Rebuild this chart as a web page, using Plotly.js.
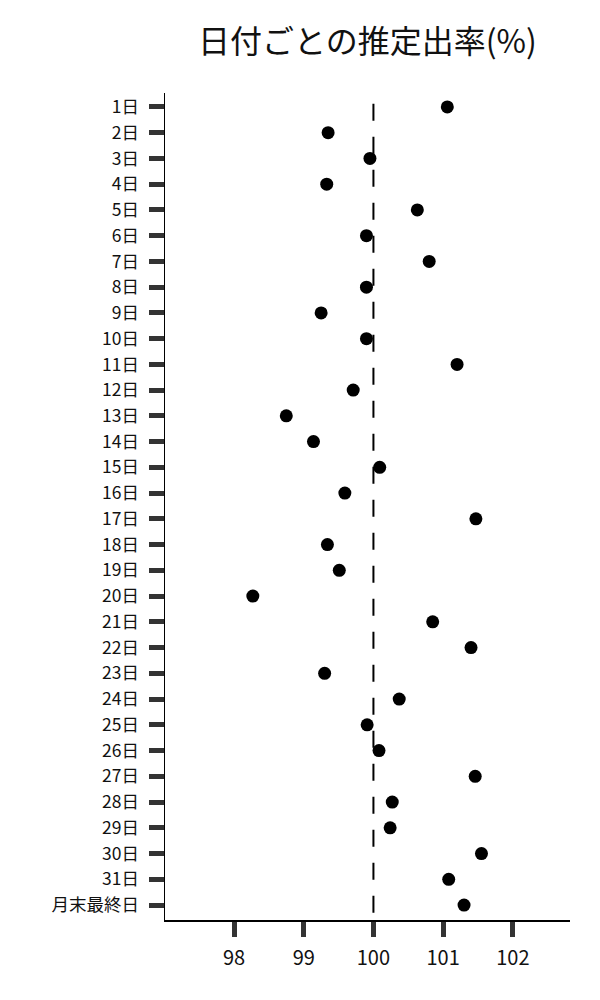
<!DOCTYPE html>
<html>
<head>
<meta charset="utf-8">
<script src="https://cdn.plot.ly/plotly-3.0.1.min.js"></script>
<style>
  html, body { margin: 0; padding: 0; background: #fff; }
  #chart { width: 600px; height: 1000px; }
</style>
</head>
<body>
<div id="chart"></div>
<script>
const days = [
    "1日", "2日", "3日", "4日", "5日", "6日", "7日", "8日", "9日", "10日",
    "11日", "12日", "13日", "14日", "15日", "16日", "17日", "18日", "19日", "20日",
    "21日", "22日", "23日", "24日", "25日", "26日", "27日", "28日", "29日", "30日",
    "31日", "月末最終日"
]
const rates = [
    101.06, 99.35, 99.95, 99.33, 100.63, 99.90, 100.80, 99.90, 99.25, 99.90,
    101.20, 99.71, 98.75, 99.14, 100.09, 99.59, 101.47, 99.34, 99.51, 98.27,
    100.85, 101.40, 99.30, 100.37, 99.91, 100.08, 101.46, 100.27, 100.24, 101.55,
    101.08, 101.30
]
const xTicks = [98, 99, 100, 101, 102]
const refValue = 100

const font = "Noto Sans CJK JP, Noto Sans, sans-serif"

const data = [{
    type: "scatter",
    mode: "markers",
    x: rates,
    y: days,
    marker: { color: "#000", size: 13 },
    hoverinfo: "x+y"
}]

const layout = {
    width: 600,
    height: 1000,
    margin: { l: 165, r: 30, t: 93, b: 80 },
    paper_bgcolor: "#fff",
    plot_bgcolor: "#fff",
    showlegend: false,
    font: { family: font, color: "#111", size: 20 },
    title: {
        text: "日付ごとの推定出率(%)",
        font: { size: 32, family: font, color: "#111" },
        x: 0.5,
        xref: "paper",
        xanchor: "center",
        y: 0.958,
        yref: "container",
        yanchor: "middle"
    },
    xaxis: {
        range: [97.01, 102.82],
        tickvals: xTicks,
        ticktext: xTicks.map(String),
        showgrid: false,
        zeroline: false,
        showline: true,
        linecolor: "#000",
        linewidth: 1.5,
        ticks: "outside",
        ticklen: 15,
        tickwidth: 5,
        tickcolor: "#333",
        tickfont: { size: 20 },
        ticklabelstandoff: 4
    },
    yaxis: {
        type: "category",
        categoryorder: "array",
        categoryarray: days,
        range: [31.58, -0.54],
        showgrid: false,
        zeroline: false,
        showline: true,
        linecolor: "#000",
        linewidth: 1.5,
        ticks: "outside",
        ticklen: 15,
        tickwidth: 5,
        tickcolor: "#333",
        // kept just under the row pitch so neighbouring labels do not collide
        tickfont: { size: 17.5 },
        ticklabelstandoff: 6
    },
    shapes: [{
        type: "line",
        xref: "x",
        yref: "paper",
        x0: refValue,
        x1: refValue,
        y0: 0.987,
        y1: 0,
        line: { color: "#000", width: 2, dash: "17px,16px" }
    }]
}

Plotly.newPlot("chart", data, layout, { displayModeBar: false, staticPlot: true })
</script>
</body>
</html>
